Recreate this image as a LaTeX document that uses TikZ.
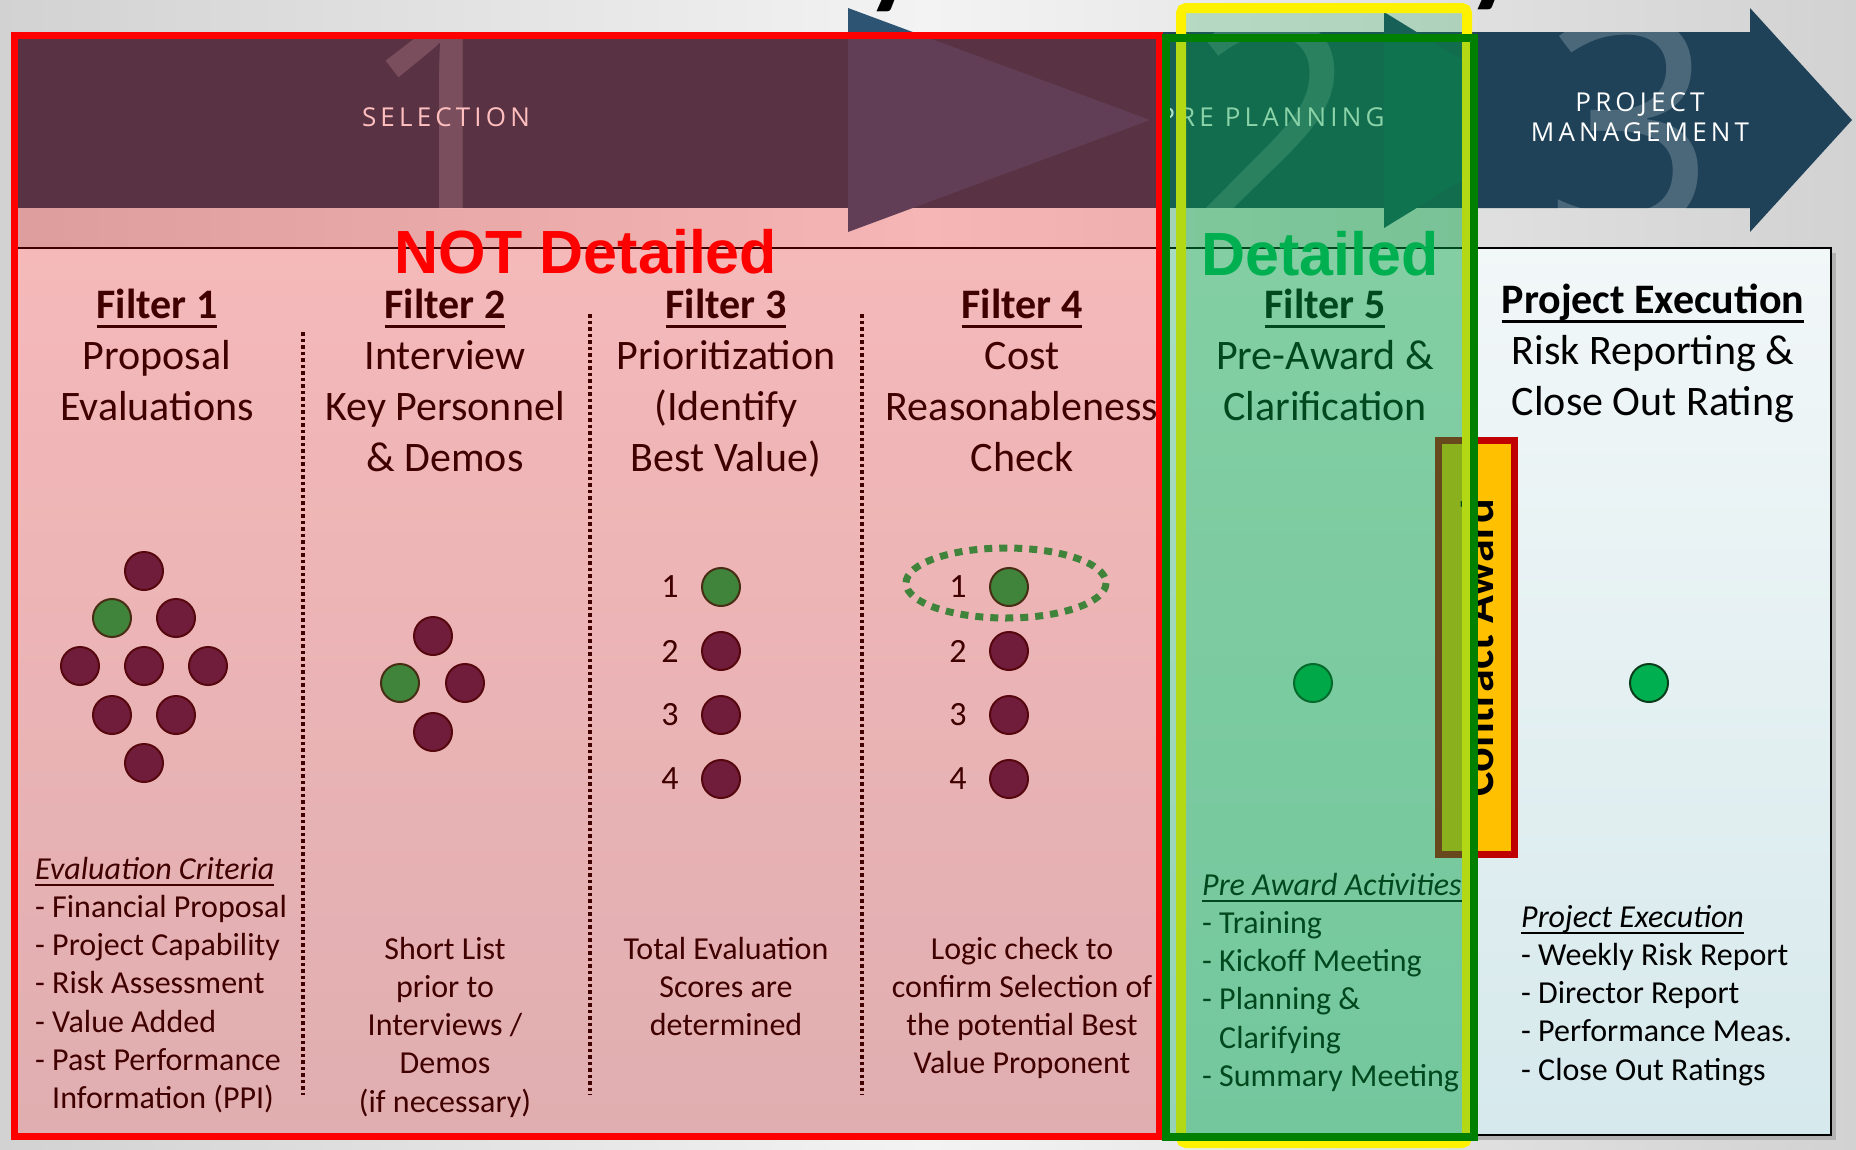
\documentclass[tikz,border=0pt]{standalone}
\usepackage{fontspec}
\usetikzlibrary{positioning,calc}
\setmainfont{Carlito}
\newfontfamily\bandfont[LetterSpace=16]{Open Sans}
\newfontfamily\numfont{Open Sans}
\newfontfamily\markfont{Liberation Sans}
\definecolor{bgedge}{HTML}{D2D2D2}
\definecolor{bgmid}{HTML}{F3F3F3}
\definecolor{panetop}{HTML}{F2F7F8}
\definecolor{panebot}{HTML}{D6E9EC}
\definecolor{bandblue}{HTML}{22445B}
\definecolor{headone}{HTML}{2D5472}
\definecolor{headtwo}{HTML}{1E4E5E}
\definecolor{arrowthree}{HTML}{1F4259}
\definecolor{dotred}{HTML}{40284F}
\definecolor{dotedge}{HTML}{1E0A14}
\definecolor{dotgreen}{HTML}{00B050}
\definecolor{gdotedge}{HTML}{0B3D1B}
\definecolor{overgreen}{HTML}{00A040}
\definecolor{boxgreen}{HTML}{008000}
\definecolor{awardred}{HTML}{C00000}
\definecolor{awardorange}{HTML}{FFC000}
\newcommand{\flines}[2]{\begin{tabular}[t]{@{}#1@{}}#2\end{tabular}}
\newcommand{\undl}[1]{\setbox0\hbox{#1}\rlap{\rule[-0.23em]{\wd0}{0.065em}}\box0}

\begin{document}
\begin{tikzpicture}[x=1pt, y=-1pt,
    rdot/.style={circle, draw=dotedge, line width=2pt, fill=dotred, minimum size=38pt, inner sep=0pt},
    gdot/.style={rdot, draw=gdotedge, fill=dotgreen},
    ftitle/.style={anchor=base, inner sep=0pt, font=\fontsize{42}{51}\selectfont},
    fnote/.style={anchor=base, inner sep=0pt, font=\fontsize{32}{38.3}\selectfont},
    flist/.style={fnote, anchor=base west},
    rank/.style={inner sep=0pt, font=\fontsize{34}{34}\selectfont},
    colsep/.style={line width=3.5pt, dash pattern=on 3.5pt off 3pt},
    bandlbl/.style={text=white, inner sep=0pt, align=center, font=\bandfont\fontsize{26}{30}\selectfont},
    bignum/.style={text=white, opacity=0.2, inner sep=0pt, font=\numfont\fontsize{300}{300}\selectfont},
    marker/.style={inner sep=0pt, font=\markfont\bfseries\fontsize{61}{61}\selectfont}]
    \useasboundingbox (0,0) rectangle (1856,1149);
    % Background
    \shade[left color=bgedge, right color=bgedge, middle color=bgmid] (0,0) rectangle (1856,1149);
    % Title cut by the top edge
    \begin{scope}
        \clip (0,0) rectangle (1856,18);
        \node[anchor=base, inner sep=0pt, font=\bfseries\fontsize{110}{110}\selectfont] (titley) at (893,-6) {y};
        \node[anchor=base, inner sep=0pt, font=\bfseries\fontsize{110}{110}\selectfont] (titlez) at (1494,-8) {y};
    \end{scope}
    % Panel
    \fill[gray!60] (21,253) rectangle (1836,1140);
    \shadedraw[top color=panetop, bottom color=panebot, draw=black, line width=2pt] (16,248) rectangle (1831,1135);
    % Phase arrows
    \fill[bandblue] (16,32) rectangle (1480,208);
    \fill[headone] (848,8) -- (1150,120) -- (848,232) -- cycle;
    \fill[headtwo] (1384,12) -- (1560,120) -- (1384,228) -- cycle;
    \fill[arrowthree] (1478,32) -- (1750,32) -- (1750,8) -- (1852,120) -- (1750,232) -- (1750,208) -- (1478,208) -- cycle;
    \begin{scope}
        \clip (16,32) rectangle (1852,208);
        \node[bignum] (numone) at (444,124) {1};
        \node[bignum] (numtwo) at (1274,124) {2};
        \node[bignum] (numthree) at (1630,124) {3};
    \end{scope}
    \node[bandlbl] (selection) at (446,117) {SELECTION};
    \node[bandlbl] (preplan) at (1272,117) {PRE PLANNING};
    \node[bandlbl] (projman) at (1640,117) {PROJECT\\MANAGEMENT};
    % Filter headings
    \node[ftitle] (fone) at (157,318) {\flines{c}{\textbf{\undl{Filter 1}}\\Proposal\\Evaluations}};
    \node[ftitle] (ftwo) at (445,318) {\flines{c}{\textbf{\undl{Filter 2}}\\Interview\\Key Personnel\\\& Demos}};
    \node[ftitle] (fthree) at (726,318) {\flines{c}{\textbf{\undl{Filter 3}}\\Prioritization\\(Identify\\Best Value)}};
    \node[ftitle] (ffour) at (1022,318) {\flines{c}{\textbf{\undl{Filter 4}}\\Cost\\Reasonableness\\Check}};
    \node[ftitle] (ffive) at (1325,318) {\flines{c}{\textbf{\undl{Filter 5}}\\Pre-Award \&\\Clarification}};
    \node[ftitle] (fexec) at (1653,313) {\flines{c}{\textbf{\undl{Project Execution}}\\Risk Reporting \&\\Close Out Rating}};
    % Separators
    \draw[colsep] (303,332) -- (303,1095);
    \draw[colsep] (590,314) -- (590,1095);
    \draw[colsep] (862,314) -- (862,1095);
    % Proponents
    \foreach \x/\y [count=\i] in {144/571, 176/618, 80/666, 144/666, 208/666, 112/715, 176/715, 144/763}
        \node[rdot] (fonedot\i) at (\x,\y) {};
    \node[gdot] (fonebest) at (112,618) {};
    \foreach \x/\y [count=\i] in {433/636, 465/683, 433/732}
        \node[rdot] (ftwodot\i) at (\x,\y) {};
    \node[gdot] (ftwobest) at (400,683) {};
    \foreach \y [count=\i] in {587,651,715,779} {
        \node[rank] (fthreenum\i) at (670,\y) {\i};
        \node[rank] (ffournum\i) at (958,\y) {\i};
    }
    \foreach \y [count=\i from 2] in {651,715,779} {
        \node[rdot] (fthreedot\i) at (721,\y) {};
        \node[rdot] (ffourdot\i) at (1009,\y) {};
    }
    \node[gdot] (fthreebest) at (721,587) {};
    \node[gdot] (ffourbest) at (1009,587) {};
    \draw[dotgreen, line width=7pt, dash pattern=on 8pt off 7pt] (ffourbest) ++(-3,-4) ellipse (100 and 35);
    \node[gdot] (ffivebest) at (1313,683) {};
    \node[gdot] (fexecbest) at (1649,683) {};
    % Notes
    \node[flist] (onelist) at (35,879) {\flines{l}{\textit{\undl{Evaluation Criteria}}\\- Financial Proposal\\- Project Capability\\- Risk Assessment\\- Value Added\\- Past Performance\\\phantom{- }Information (PPI)}};
    \node[fnote] (twonote) at (445,959) {\flines{c}{Short List\\prior to\\Interviews /\\Demos\\(if necessary)}};
    \node[fnote] (threenote) at (726,959) {\flines{c}{Total Evaluation\\Scores are\\determined}};
    \node[fnote] (fournote) at (1022,959) {\flines{c}{Logic check to\\confirm Selection of\\the potential Best\\Value Proponent}};
    \node[flist] (fivelist) at (1202,895) {\flines{l}{\textit{\undl{Pre Award Activities}}\\- Training\\- Kickoff Meeting\\- Planning \&\\\phantom{- }Clarifying\\- Summary Meeting}};
    \node[flist] (execlist) at (1521,927) {\flines{l}{\textit{\undl{Project Execution}}\\- Weekly Risk Report\\- Director Report\\- Performance Meas.\\- Close Out Ratings}};
    % Contract award
    \draw[draw=awardred, fill=awardorange, line width=7pt] (1438.5,440.5) rectangle (1514.5,854.5);
    \node[rotate=90, anchor=base, inner sep=0pt, font=\bfseries\fontsize{46}{46}\selectfont] (award) at (1493,648) {Contract Award};
    % Overlays
    \fill[red, opacity=0.25] (14,35.5) rectangle (1159.5,1136);
    \draw[red, line width=7pt] (14,35.5) rectangle (1159.5,1136);
    \draw[yellow, line width=10pt, rounded corners=5pt, fill=overgreen, fill opacity=0.22] (1181,8) rectangle (1467,1143);
    \draw[boxgreen, line width=8pt, fill=overgreen, fill opacity=0.3] (1166,38) rectangle (1474,1137);
    \node[marker, anchor=base west, text=red] (notdet) at (394,273) {NOT Detailed};
    \node[marker, anchor=base, text=dotgreen] (det) at (1320,275) {Detailed};
\end{tikzpicture}
\end{document}
